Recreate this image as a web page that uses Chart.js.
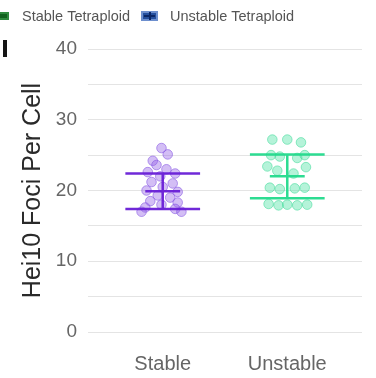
<!DOCTYPE html>
<html>
<head>
<meta charset="utf-8">
<script src="https://cdn.jsdelivr.net/npm/chart.js@4/dist/chart.umd.min.js"></script>
<style>
  html, body { margin: 0; padding: 0; background: #ffffff; }
  #wrap { width: 376px; height: 378px; position: relative; }
</style>
</head>
<body>
<div id="wrap"><canvas id="chart"></canvas></div>
<script>
// Groups along the x axis
const categories = ['Stable', 'Unstable'];
const legendNames = ['Stable Tetraploid', 'Unstable Tetraploid'];

// Individual cells: [group position with jitter, Hei10 foci count]
const stablePoints = [
  [-0.01, 26.0], [0.04, 25.1], [-0.08, 24.2], [-0.05, 23.6], [0.03, 23.0],
  [-0.12, 22.6], [0.10, 22.4], [-0.02, 22.0], [-0.09, 21.2], [0.08, 21.0],
  [0.00, 20.5], [-0.13, 20.0], [0.12, 19.8], [-0.04, 19.3], [0.06, 19.0],
  [-0.10, 18.5], [0.12, 18.3], [-0.01, 18.0], [-0.14, 17.6], [0.10, 17.4],
  [-0.17, 17.0], [0.15, 17.0]
];
const unstablePoints = [
  [0.88, 27.2], [1.00, 27.2], [1.11, 26.8], [0.87, 25.0], [0.94, 24.8],
  [1.08, 24.6], [1.14, 25.0], [0.84, 23.4], [1.15, 23.3], [0.92, 22.8],
  [1.05, 22.4], [0.86, 20.4], [0.94, 20.2], [1.06, 20.3], [1.14, 20.4],
  [0.85, 18.1], [0.93, 17.9], [1.00, 18.0], [1.08, 17.9], [1.16, 18.0]
];

// Group summaries: mean and standard deviation
const groupMeans = [19.9, 22.0];
const groupSD = [2.5, 3.1];

// Labelled y ticks (grid every 5)
const yTicks = [0, 10, 20, 30, 40];

const lineColors = ['rgba(104, 30, 214, 0.95)', 'rgba(34, 218, 140, 0.95)'];
const dotFill = ['rgba(150, 100, 232, 0.42)', 'rgba(70, 226, 160, 0.40)'];
const dotEdge = ['rgba(130, 80, 225, 0.55)', 'rgba(50, 215, 145, 0.50)'];

// Mean ± SD bars drawn through the chart's own scales
const errorBars = {
  id: 'errorBars',
  afterDatasetsDraw(chart) {
    const { ctx, scales: { x, y } } = chart;
    ctx.save();
    ctx.lineCap = 'butt';
    categories.forEach((c, i) => {
      const cx = x.getPixelForValue(i);
      const hi = y.getPixelForValue(groupMeans[i] + groupSD[i]);
      const lo = y.getPixelForValue(groupMeans[i] - groupSD[i]);
      const mid = y.getPixelForValue(groupMeans[i]);
      const capL = x.getPixelForValue(i - 0.30), capR = x.getPixelForValue(i + 0.30);
      const mL = x.getPixelForValue(i - 0.14), mR = x.getPixelForValue(i + 0.14);
      ctx.strokeStyle = lineColors[i];
      ctx.lineWidth = 2.5;
      ctx.beginPath();
      ctx.moveTo(cx, hi); ctx.lineTo(cx, lo);
      ctx.moveTo(capL, hi); ctx.lineTo(capR, hi);
      ctx.moveTo(capL, lo); ctx.lineTo(capR, lo);
      ctx.moveTo(mL, mid); ctx.lineTo(mR, mid);
      ctx.stroke();
    });
    ctx.restore();
  }
};

// Legend strip across the top and the small marker at the left edge
const topLegend = {
  id: 'topLegend',
  afterDraw(chart) {
    const ctx = chart.ctx;
    ctx.save();
    // green key
    ctx.fillStyle = '#2f8a3e';
    ctx.fillRect(-1, 12, 10, 8);
    ctx.fillStyle = '#12621f';
    ctx.fillRect(0, 14, 7, 4);
    // blue key
    ctx.fillStyle = '#6d8fce';
    ctx.fillRect(141, 11, 17, 10);
    ctx.fillStyle = '#244f9e';
    ctx.fillRect(143, 13, 13, 6);
    ctx.fillStyle = '#0b2766';
    ctx.fillRect(144, 15, 11, 2);
    ctx.fillRect(149, 12, 2, 8);
    ctx.font = '14.5px "Liberation Sans", Arial, sans-serif';
    ctx.fillStyle = '#555555';
    ctx.textBaseline = 'middle';
    ctx.fillText(legendNames[0], 22, 17);
    ctx.fillText(legendNames[1], 170, 17);
    // edge marker
    ctx.fillStyle = '#151515';
    ctx.fillRect(3, 40, 4, 17);
    ctx.restore();
  }
};

new Chart(document.getElementById('chart'), {
  type: 'scatter',
  data: {
    datasets: [
      {
        label: categories[0],
        data: stablePoints.map(p => ({ x: p[0], y: p[1] })),
        backgroundColor: dotFill[0],
        borderColor: dotEdge[0],
        borderWidth: 1,
        pointRadius: 4.8
      },
      {
        label: categories[1],
        data: unstablePoints.map(p => ({ x: p[0], y: p[1] })),
        backgroundColor: dotFill[1],
        borderColor: dotEdge[1],
        borderWidth: 1,
        pointRadius: 4.8
      }
    ]
  },
  options: {
    responsive: true,
    maintainAspectRatio: false,
    animation: false,
    layout: { padding: { top: 49, right: 14, left: 0, bottom: 0 } },
    plugins: {
      legend: { display: false },
      tooltip: { enabled: false }
    },
    scales: {
      x: {
        type: 'linear',
        min: -0.6,
        max: 1.6,
        grid: { display: false },
        border: { display: false },
        afterBuildTicks(scale) {
          scale.ticks = categories.map((c, i) => ({ value: i }));
        },
        afterFit(scale) { scale.height = 46; },
        ticks: {
          padding: 12,
          color: '#666666',
          font: { family: '"Liberation Sans", Arial, sans-serif', size: 20 },
          callback: v => categories[v]
        }
      },
      y: {
        min: yTicks[0],
        max: yTicks[yTicks.length - 1],
        grid: { color: '#e4e4e4', lineWidth: 1, drawTicks: false },
        border: { display: false },
        afterFit(scale) { scale.width = 88; },
        ticks: {
          stepSize: 5,
          autoSkip: false,
          padding: 11,
          color: '#666666',
          font: { family: '"Liberation Sans", Arial, sans-serif', size: 19 },
          callback: v => (yTicks.includes(v) ? v : '')
        },
        title: {
          display: true,
          text: 'Hei10 Foci Per Cell',
          color: '#2a2a2a',
          font: { family: '"Liberation Sans", Arial, sans-serif', size: 25, lineHeight: 1 },
          padding: { top: 21, bottom: 0 }
        }
      }
    }
  },
  plugins: [errorBars, topLegend]
});
</script>
</body>
</html>
